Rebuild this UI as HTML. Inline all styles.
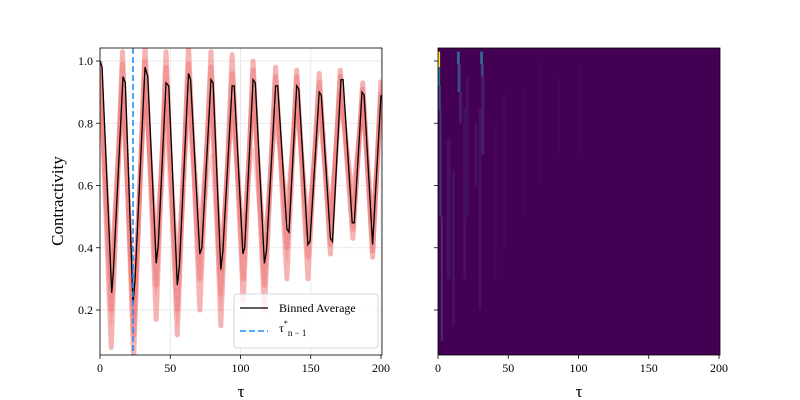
<!DOCTYPE html>
<html><head><meta charset="utf-8"><style>
body{margin:0;background:#fff;}
svg{display:block;font-family:"Liberation Serif",serif;}
</style></head><body>
<svg id="c" width="800" height="400" viewBox="0 0 800 400" xmlns="http://www.w3.org/2000/svg">
<g id="left"></g>
<g id="right"></g>
</svg>
<script>
const xTicks=[0,50,100,150,200];
const yTicks=[0.2,0.4,0.6,0.8,1.0];
const yTickLabels=["0.2","0.4","0.6","0.8","1.0"];
const avgTau=[0,1.5,8.3,9.5,16.4,18,23.5,25,32,34,40,41.5,47,49,55,56.5,63,64.5,71,72.5,79,80.5,86,87.5,94,95.5,101.7,103,109,110.5,117,118.5,125,126.5,133,134.5,140,141.5,148,149.5,156,157.5,164,165.5,171.5,173,179.5,181,186.5,188,194,200];
const avgVal=[1.0,0.98,0.255,0.32,0.95,0.93,0.22,0.30,0.98,0.95,0.35,0.41,0.93,0.92,0.28,0.34,0.96,0.94,0.38,0.40,0.94,0.93,0.33,0.39,0.92,0.92,0.38,0.40,0.94,0.93,0.35,0.39,0.92,0.92,0.46,0.45,0.92,0.91,0.41,0.42,0.90,0.89,0.43,0.42,0.94,0.94,0.48,0.48,0.90,0.89,0.41,0.89];
const traceTau=[0,8,16,24,32,40,47,55,63,71,79,86,94,102,109,117,125,133,140,148,156,164,171,180,187,194,200];
const traceA=[1.0,0.08,1.03,0.05,1.05,0.17,1.03,0.12,1.05,0.2,1.03,0.15,1.02,0.23,1.0,0.2,0.98,0.3,0.97,0.3,0.96,0.38,0.97,0.43,0.93,0.37,0.94];
const traceB=[0.98,0.2,0.99,0.12,1.0,0.28,0.98,0.2,0.99,0.3,0.98,0.25,0.96,0.3,0.97,0.28,0.95,0.4,0.95,0.37,0.93,0.41,0.95,0.46,0.91,0.39,0.9];
const traceC=[0.95,0.3,0.92,0.18,0.94,0.37,0.9,0.3,0.92,0.42,0.88,0.33,0.87,0.4,0.9,0.37,0.85,0.5,0.88,0.45,0.86,0.48,0.9,0.55,0.88,0.45,0.88];
const traceD=[1.0,0.15,0.85,0.1,0.9,0.25,0.75,0.15,0.8,0.35,0.7,0.2,0.85,0.42,0.72,0.3,0.9,0.36,0.92,0.4,0.88,0.52,0.96,0.5,0.86,0.4,0.92];
const tauStar=23.5;
const cellTau0=[0,0,0,0.5,1,2,13.5,14,15,30,30.5,31,6,10,18,20,26,29,40,46,60,72,85,100];
const cellTau1=[1.5,1.5,1.5,2,2.5,3.5,15.5,16,17,32,32.5,33,9,12,20,22,28,31,42,48,62,74,87,102];
const cellV0=[1.0,0.98,0.92,0.84,0.5,0.1,0.99,0.9,0.8,0.99,0.95,0.7,0.3,0.15,0.3,0.5,0.6,0.2,0.3,0.4,0.5,0.6,0.7,0.7];
const cellV1=[1.03,1.0,0.98,0.92,0.84,0.5,1.03,0.99,0.9,1.03,0.99,0.95,0.75,0.65,0.85,0.95,0.8,0.85,0.8,0.9,0.9,1.0,0.95,0.98];
const cellColor=["#fde725","#fde725","#2a788e","#3e4a89","#463480","#472878","#31688e","#3e4a89","#481c6e","#31688e","#414487","#481f70","#471063","#471063","#471063","#471063","#471164","#471063","#45065a","#45065a","#45065a","#45065a","#45065a","#45065a"];

const NS="http://www.w3.org/2000/svg";
function el(p,t,a){const e=document.createElementNS(NS,t);for(const k in a)e.setAttribute(k,a[k]);p.appendChild(e);return e;}
const Y0=48,Y1=355;
function sy(v){return 61+(1.0-v)*311.25;}
const sxL=v=>100+v*1.405, sxR=v=>438+v*1.405;
const left=document.getElementById('left'), right=document.getElementById('right');

function axes(g,L,R,sx,labels){
  xTicks.forEach(t=>{
    const l=el(g,'line',{x1:sx(t),x2:sx(t),y1:Y1,y2:Y1+4,stroke:'#000','stroke-width':0.8});
    
    const tx=el(g,'text',{x:sx(t),y:Y1+17,'text-anchor':'middle','font-size':12});tx.textContent=t;
    
  });
  yTicks.forEach((t,i)=>{
    const l=el(g,'line',{x1:L-4,x2:L,y1:sy(t),y2:sy(t),stroke:'#000','stroke-width':0.8});
    
    if(labels){const tx=el(g,'text',{x:L-7,y:sy(t)+4,'text-anchor':'end','font-size':12});tx.textContent=yTickLabels[i];
    }
  });
  const xl=el(g,'text',{x:(L+R)/2,y:397,'text-anchor':'middle','font-size':17});xl.textContent='τ';
  
}
el(left,'rect',{x:100,y:Y0,width:282,height:Y1-Y0,fill:'#fff'});
const cp=el(left,'clipPath',{id:'cl'});el(cp,'rect',{x:100,y:Y0,width:282,height:Y1-Y0});
xTicks.forEach(t=>{const g=el(left,'line',{x1:sxL(t),x2:sxL(t),y1:Y0,y2:Y1,stroke:'#e3e3e3','stroke-width':0.8});});
yTicks.forEach(t=>{const g=el(left,'line',{x1:100,x2:382,y1:sy(t),y2:sy(t),stroke:'#e3e3e3','stroke-width':0.8});});
const cg=el(left,'g',{'clip-path':'url(#cl)'});
[traceA,traceB,traceC,traceD].forEach((tr,k)=>{
  const pts=traceTau.map((t,i)=>sxL(t).toFixed(1)+','+sy(tr[i]).toFixed(1)).join(' ');
  const p=el(cg,'polyline',{points:pts,fill:'none',stroke:'#f08080','stroke-opacity':k==3?0.35:0.6,'stroke-width':k==3?2:5,'stroke-linejoin':'round'});
  
});
const ap=el(cg,'polyline',{points:avgTau.map((t,i)=>sxL(t).toFixed(1)+','+sy(avgVal[i]).toFixed(1)).join(' '),fill:'none',stroke:'#000','stroke-width':1.3});

const vl=el(cg,'line',{x1:sxL(tauStar),x2:sxL(tauStar),y1:Y0,y2:Y1,stroke:'#1e90ff','stroke-width':1.6,'stroke-dasharray':'6,3'});

const fr=el(left,'rect',{x:100,y:Y0,width:282,height:Y1-Y0,fill:'none',stroke:'#000','stroke-width':0.8});

axes(left,100,382,sxL,true);
const yl=el(left,'text',{x:63,y:201,'text-anchor':'middle','font-size':17,transform:'rotate(-90 63 201)'});yl.textContent='Contractivity';

const lg=el(left,'g',{});
el(lg,'rect',{x:234,y:294,width:144,height:54,rx:3,fill:'#fff','fill-opacity':0.8,stroke:'#ccc','stroke-width':0.8});
el(lg,'line',{x1:240,x2:268,y1:308,y2:308,stroke:'#000','stroke-width':1.3});
let t1=el(lg,'text',{x:279,y:312,'font-size':12});t1.textContent='Binned Average';

el(lg,'line',{x1:240,x2:268,y1:331,y2:331,stroke:'#1e90ff','stroke-width':1.6,'stroke-dasharray':'6,3'});
let t2=el(lg,'text',{x:279,y:332,'font-size':12});t2.innerHTML='τ<tspan font-size="8" dy="-6">*</tspan><tspan font-size="9" dy="10">n − 1</tspan>';

const bg=el(right,'rect',{x:438,y:Y0,width:282,height:Y1-Y0,fill:'#440154'});

cellTau0.forEach((t0,i)=>{
  const c=el(right,'rect',{x:sxR(t0),y:sy(cellV1[i]),width:sxR(cellTau1[i])-sxR(t0),height:sy(cellV0[i])-sy(cellV1[i]),fill:cellColor[i]});
  
});
const fr2=el(right,'rect',{x:438,y:Y0,width:282,height:Y1-Y0,fill:'none',stroke:'#000','stroke-width':0.8});

axes(right,438,720,sxR,false);
</script>
</body></html>
